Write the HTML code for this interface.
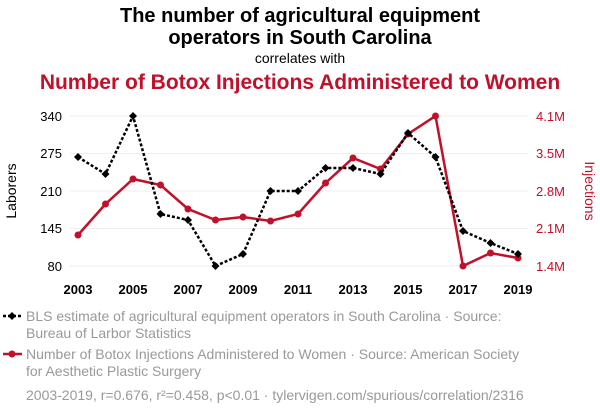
<!DOCTYPE html>
<html><head><meta charset="utf-8"><style>
body{margin:0;background:#fff;width:600px;height:414px;overflow:hidden;font-family:"Liberation Sans",sans-serif}
</style></head><body>
<svg width="600" height="414" xmlns="http://www.w3.org/2000/svg" font-family="Liberation Sans, sans-serif">
<text x="300" y="22" text-anchor="middle" font-size="20" font-weight="bold" fill="#000">The number of agricultural equipment</text>
<text x="300" y="44" text-anchor="middle" font-size="20" font-weight="bold" fill="#000">operators in South Carolina</text>
<text x="300" y="63" text-anchor="middle" font-size="14" fill="#000">correlates with</text>
<text x="300" y="89" text-anchor="middle" font-size="21" font-weight="bold" fill="#c0102a">Number of Botox Injections Administered to Women</text>
<g stroke="#eee" stroke-width="1">
<line x1="70" x2="528" y1="116" y2="116"/><line x1="70" x2="528" y1="153.5" y2="153.5"/><line x1="70" x2="528" y1="191" y2="191"/><line x1="70" x2="528" y1="228.5" y2="228.5"/><line x1="70" x2="528" y1="266" y2="266"/>
</g>
<g font-size="13" fill="#000" text-anchor="end">
<text x="62" y="121">340</text><text x="62" y="158">275</text><text x="62" y="196">210</text><text x="62" y="233">145</text><text x="62" y="271">80</text>
</g>
<g font-size="13" fill="#c0102a" text-anchor="start">
<text x="536" y="121">4.1M</text><text x="536" y="158">3.5M</text><text x="536" y="196">2.8M</text><text x="536" y="233">2.1M</text><text x="536" y="271">1.4M</text>
</g>
<text transform="translate(16,191) rotate(-90)" text-anchor="middle" font-size="14" fill="#000">Laborers</text>
<text transform="translate(585,191) rotate(90)" text-anchor="middle" font-size="14" fill="#c0102a">Injections</text>
<g font-size="13" font-weight="bold" fill="#000" text-anchor="middle">
<text x="78" y="294">2003</text><text x="133" y="294">2005</text><text x="188" y="294">2007</text><text x="243" y="294">2009</text><text x="298" y="294">2011</text><text x="353" y="294">2013</text><text x="408" y="294">2015</text><text x="463" y="294">2017</text><text x="518" y="294">2019</text>
</g>
<polyline fill="none" stroke="#c0102a" stroke-width="2.5" points="78,235 105.5,204 133,179 160.5,185 188,209 215.5,220 243,217 270.5,221 298,214 325.5,183 353,158 380.5,169 408,134 435.5,116 463,266 490.5,253 518,258"/>
<g fill="#c0102a">
<circle cx="78" cy="235" r="3.5"/><circle cx="105.5" cy="204" r="3.5"/><circle cx="133" cy="179" r="3.5"/><circle cx="160.5" cy="185" r="3.5"/><circle cx="188" cy="209" r="3.5"/><circle cx="215.5" cy="220" r="3.5"/><circle cx="243" cy="217" r="3.5"/><circle cx="270.5" cy="221" r="3.5"/><circle cx="298" cy="214" r="3.5"/><circle cx="325.5" cy="183" r="3.5"/><circle cx="353" cy="158" r="3.5"/><circle cx="380.5" cy="169" r="3.5"/><circle cx="408" cy="134" r="3.5"/><circle cx="435.5" cy="116" r="3.5"/><circle cx="463" cy="266" r="3.5"/><circle cx="490.5" cy="253" r="3.5"/><circle cx="518" cy="258" r="3.5"/>
</g>
<polyline fill="none" stroke="#000" stroke-width="2.5" stroke-dasharray="3,2" points="78,157 105.5,174 133,116 160.5,214 188,220 215.5,266 243,254 270.5,191 298,191 325.5,168 353,168 380.5,174 408,133 435.5,157 463,231 490.5,243 518,254"/>
<g fill="#000">
<path d="M78,153 l4,4 -4,4 -4,-4z M105.5,170 l4,4 -4,4 -4,-4z M133,112 l4,4 -4,4 -4,-4z M160.5,210 l4,4 -4,4 -4,-4z M188,216 l4,4 -4,4 -4,-4z M215.5,262 l4,4 -4,4 -4,-4z M243,250 l4,4 -4,4 -4,-4z M270.5,187 l4,4 -4,4 -4,-4z M298,187 l4,4 -4,4 -4,-4z M325.5,164 l4,4 -4,4 -4,-4z M353,164 l4,4 -4,4 -4,-4z M380.5,170 l4,4 -4,4 -4,-4z M408,129 l4,4 -4,4 -4,-4z M435.5,153 l4,4 -4,4 -4,-4z M463,227 l4,4 -4,4 -4,-4z M490.5,239 l4,4 -4,4 -4,-4z M518,250 l4,4 -4,4 -4,-4z"/>
</g>
<line x1="3" x2="22" y1="316" y2="316" stroke="#000" stroke-width="2.5" stroke-dasharray="3,2"/>
<path d="M12,312 l4,4 -4,4 -4,-4z" fill="#000"/>
<text x="26" y="321" font-size="14" fill="#999">BLS estimate of agricultural equipment operators in South Carolina · Source:</text>
<text x="26" y="338" font-size="14" fill="#999">Bureau of Larbor Statistics</text>
<line x1="3" x2="22" y1="354" y2="354" stroke="#c0102a" stroke-width="2.5"/>
<circle cx="12" cy="354" r="3.5" fill="#c0102a"/>
<text x="26" y="359" font-size="14" fill="#999">Number of Botox Injections Administered to Women · Source: American Society</text>
<text x="26" y="376" font-size="14" fill="#999">for Aesthetic Plastic Surgery</text>
<text x="26" y="400" font-size="14" fill="#999">2003-2019, r=0.676, r²=0.458, p&lt;0.01 · tylervigen.com/spurious/correlation/2316</text>
</svg>
</body></html>
